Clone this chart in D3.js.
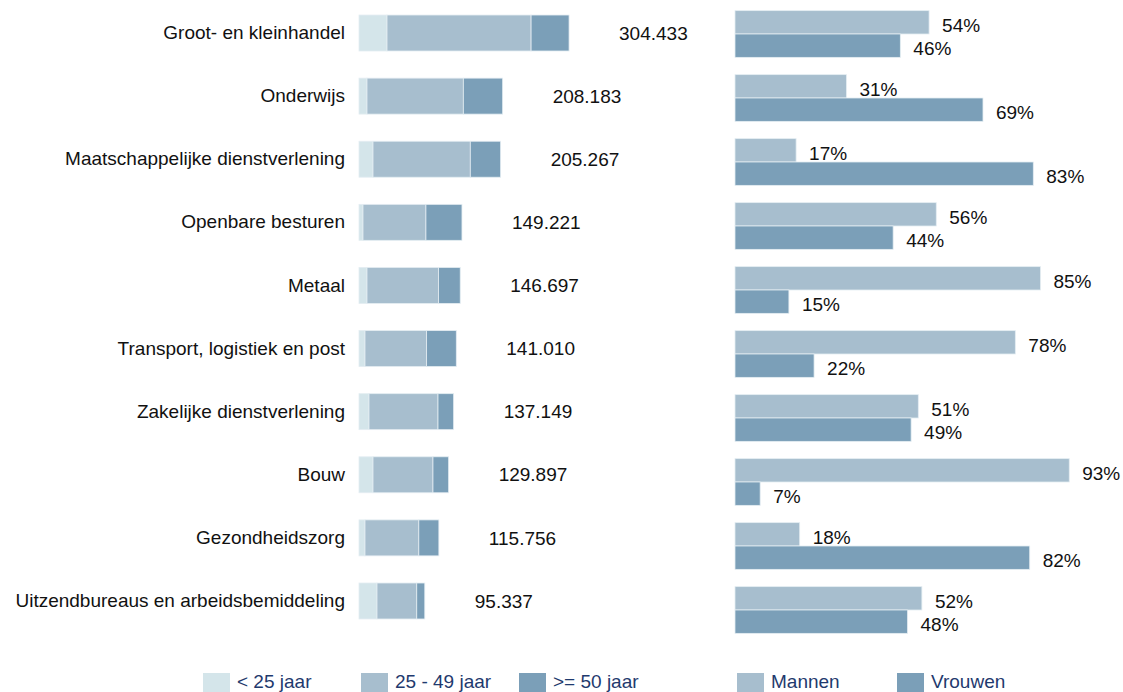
<!DOCTYPE html>
<html>
<head>
<meta charset="utf-8">
<script src="https://cdn.jsdelivr.net/npm/d3@7"></script>
<style>
  html, body { margin: 0; padding: 0; background: #fff; }
  svg { display: block; font-family: "Liberation Sans", Arial, sans-serif; }
  .yAxis .domain { display: none; }
</style>
</head>
<body>
<svg id="chart" width="1123" height="692"></svg>
<script>
const categories = [
    "Groot- en kleinhandel",
    "Onderwijs",
    "Maatschappelijke dienstverlening",
    "Openbare besturen",
    "Metaal",
    "Transport, logistiek en post",
    "Zakelijke dienstverlening",
    "Bouw",
    "Gezondheidszorg",
    "Uitzendbureaus en arbeidsbemiddeling"
];

// werknemers per leeftijdsgroep (geschat uit de balken)
const onder25 = [40600, 11600, 20300, 5800, 11600, 8700, 14500, 20300, 8700, 26100];
const van25tot49 = [208800, 139600, 141000, 91200, 103700, 89300, 100000, 86900, 78000, 57600];
const vanaf50 = [55033, 56983, 43967, 52221, 31397, 43010, 22649, 22697, 29056, 11637];
const totalen = [304433, 208183, 205267, 149221, 146697, 141010, 137149, 129897, 115756, 95337];

// aandeel mannen / vrouwen in %
const mannen = [54, 31, 17, 56, 85, 78, 51, 93, 18, 52];
const vrouwen = [46, 69, 83, 44, 15, 22, 49, 7, 82, 48];

const ageKeys = ["< 25 jaar", "25 - 49 jaar", ">= 50 jaar"];
const sexKeys = ["Mannen", "Vrouwen"];

const colLight = "#d4e5ea", colMid = "#a7bece", colDark = "#7b9fb8";
const ageColor = d3.scaleOrdinal().domain(ageKeys).range([colLight, colMid, colDark]);
const sexColor = d3.scaleOrdinal().domain(sexKeys).range([colMid, colDark]);

const rows = categories.map((c, i) => ({
    cat: c,
    "< 25 jaar": onder25[i],
    "25 - 49 jaar": van25tot49[i],
    ">= 50 jaar": vanaf50[i],
    total: totalen[i],
    Mannen: mannen[i],
    Vrouwen: vrouwen[i]
}));

const svg = d3.select("#chart");

// ---- links: gestapelde leeftijdsbalken
const yLeft = d3.scaleBand()
    .domain(categories)
    .range([1.45, 632.55])
    .paddingInner(0.43)
    .paddingOuter(0.215);

const xLeft = d3.scaleLinear().domain([0, 400000]).range([359, 635]);

const stacked = d3.stack().keys(ageKeys)(rows);

svg.append("g")
    .selectAll("g")
    .data(stacked)
    .join("g")
    .attr("fill", d => ageColor(d.key))
    .selectAll("rect")
    .data(d => d)
    .join("rect")
    .attr("x", d => xLeft(d[0]))
    .attr("y", d => yLeft(d.data.cat))
    .attr("width", d => xLeft(d[1]) - xLeft(d[0]))
    .attr("height", yLeft.bandwidth())
    .attr("stroke", "#e4edf2")
    .attr("stroke-width", 0.8);

svg.append("g")
    .selectAll("text")
    .data(rows)
    .join("text")
    .attr("x", d => xLeft(d.total) + 50)
    .attr("y", d => yLeft(d.cat) + yLeft.bandwidth() / 2)
    .attr("dy", "0.35em")
    .attr("font-size", 19)
    .attr("fill", "#111")
    .text(d => d3.format(",")(d.total).replace(/,/g, "."));

const yAxis = d3.axisLeft(yLeft).tickSize(0).tickPadding(14);
svg.append("g")
    .attr("class", "yAxis")
    .attr("transform", `translate(${xLeft(0)},0)`)
    .call(yAxis)
    .call(g => g.selectAll("text")
        .attr("font-size", 19)
        .attr("font-family", "Liberation Sans, Arial, sans-serif")
        .attr("fill", "#111"));

// ---- rechts: mannen / vrouwen
const yRight = d3.scaleBand()
    .domain(categories)
    .range([2, 642])
    .paddingInner(0.27)
    .paddingOuter(0.135);

const ySex = d3.scaleBand().domain(sexKeys).range([0, yRight.bandwidth()]);

const xRight = d3.scaleLinear().domain([0, 100]).range([735, 1094.4]);

const pairs = svg.append("g")
    .selectAll("g")
    .data(rows)
    .join("g")
    .attr("transform", d => `translate(0,${yRight(d.cat)})`);

pairs.selectAll("rect")
    .data(d => sexKeys.map(k => ({ key: k, value: d[k] })))
    .join("rect")
    .attr("x", xRight(0))
    .attr("y", d => ySex(d.key))
    .attr("width", d => xRight(d.value) - xRight(0))
    .attr("height", ySex.bandwidth())
    .attr("fill", d => sexColor(d.key))
    .attr("stroke", "#e4edf2")
    .attr("stroke-width", 0.8);

pairs.selectAll("text")
    .data(d => sexKeys.map(k => ({ key: k, value: d[k] })))
    .join("text")
    .attr("x", d => xRight(d.value) + 13)
    .attr("y", d => ySex(d.key) + ySex.bandwidth() / 2 + 3)
    .attr("dy", "0.35em")
    .attr("font-size", 19)
    .attr("fill", "#111")
    .text(d => d.value + "%");

// ---- legenda
const legendItems = [
    { key: ageKeys[0], color: colLight, x: 203 },
    { key: ageKeys[1], color: colMid, x: 361 },
    { key: ageKeys[2], color: colDark, x: 519 },
    { key: sexKeys[0], color: colMid, x: 737 },
    { key: sexKeys[1], color: colDark, x: 897 }
];

const legend = svg.append("g").attr("class", "legend")
    .selectAll("g")
    .data(legendItems)
    .join("g")
    .attr("transform", d => `translate(${d.x},673)`);

legend.append("rect")
    .attr("width", 27)
    .attr("height", 22)
    .attr("fill", d => d.color);

legend.append("text")
    .attr("x", 34)
    .attr("y", 15)
    .attr("font-size", 19)
    .attr("fill", "#1f3a6e")
    .text(d => d.key);
</script>
</body>
</html>
